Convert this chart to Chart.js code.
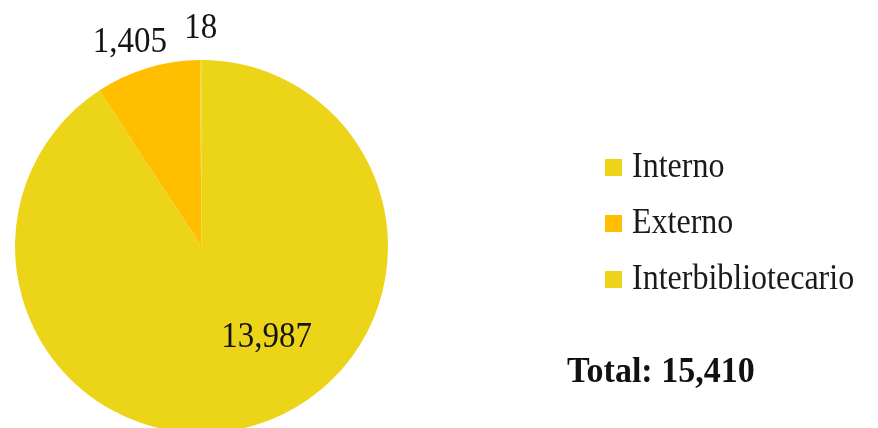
<!DOCTYPE html>
<html>
<head>
<meta charset="utf-8">
<script src="https://cdn.jsdelivr.net/npm/chart.js@4/dist/chart.umd.min.js"></script>
<style>
  html, body { margin: 0; padding: 0; background: #fff; overflow: hidden; }
  #wrap { width: 878px; height: 428px; overflow: hidden; }
</style>
</head>
<body>
<div id="wrap"><canvas id="pieChart" width="878" height="436"></canvas></div>
<script>
const categories = ["Interno", "Externo", "Interbibliotecario"];
const values = [13987, 1405, 18];
const sliceColors = ["#ECD419", "#FFBF00", "#EDD31B"];
const totalLabel = "Total: 15,410";

const serif = "'Liberation Serif', 'Times New Roman', serif";

function fmt(n) {
    return n.toLocaleString("en-US");
}

// text drawn slightly taller, like the source image
function tallText(ctx, text, x, y, stretch) {
    ctx.save();
    ctx.translate(x, y);
    ctx.scale(1, stretch);
    ctx.fillText(text, 0, 0);
    ctx.restore();
}

// value labels on / beside each slice
const valueLabels = {
    id: "valueLabels",
    afterDatasetsDraw(chart, args, opts) {
        const ctx = chart.ctx;
        const arcs = chart.getDatasetMeta(0).data;
        ctx.save();
        ctx.font = "33px " + serif;
        ctx.fillStyle = "#141414";
        ctx.textAlign = "center";
        ctx.textBaseline = "middle";
        arcs.forEach(function (arc, i) {
            const p = arc.getProps(["x", "y", "startAngle", "endAngle", "outerRadius"], true);
            const mid = (p.startAngle + p.endAngle) / 2 + (opts.shift[i] || 0) * Math.PI / 180;
            const r = p.outerRadius * opts.radius[i];
            tallText(ctx, fmt(chart.data.datasets[0].data[i]), p.x + Math.cos(mid) * r, p.y + Math.sin(mid) * r, 1.1);
        });
        ctx.restore();
    }
};

// legend on the right plus total
const sideLegend = {
    id: "sideLegend",
    afterDraw(chart, args, opts) {
        const ctx = chart.ctx;
        const colors = chart.data.datasets[0].backgroundColor;
        ctx.save();
        ctx.textBaseline = "middle";
        ctx.textAlign = "left";
        chart.data.labels.forEach(function (label, i) {
            const y = opts.top + i * opts.gap;
            ctx.fillStyle = colors[i];
            ctx.fillRect(opts.x, y - 9, 17, 17);
            ctx.fillStyle = "#1a1a1a";
            ctx.font = "32px " + serif;
            tallText(ctx, label, opts.x + 27, y, 1.1);
        });
        ctx.font = "bold 34px " + serif;
        ctx.fillStyle = "#111";
        tallText(ctx, opts.total, 567, 373, 1.08);
        ctx.restore();
    }
};

new Chart(document.getElementById("pieChart").getContext("2d"), {
    type: "pie",
    data: {
        labels: categories,
        datasets: [{
            data: values,
            backgroundColor: sliceColors,
            borderWidth: 0
        }]
    },
    options: {
        responsive: false,
        animation: false,
        layout: { padding: { left: 15, top: 60, right: 490, bottom: 3 } },
        plugins: {
            legend: { display: false },
            tooltip: { enabled: false },
            valueLabels: { radius: [0.6, 1.16, 1.17], shift: [-19, -2.5, 0] },
            sideLegend: { x: 605, top: 168, gap: 56, total: totalLabel }
        }
    },
    plugins: [valueLabels, sideLegend]
});
</script>
</body>
</html>
